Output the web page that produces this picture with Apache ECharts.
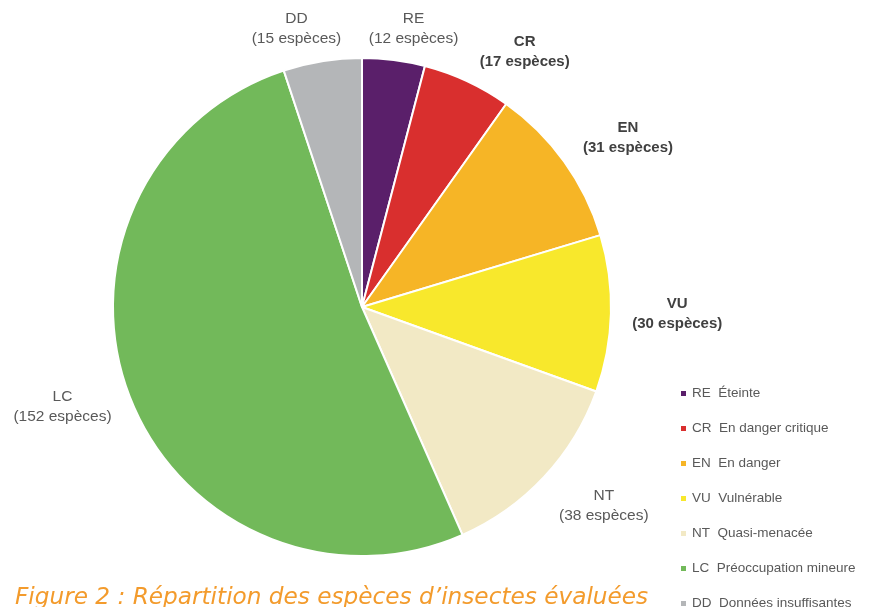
<!DOCTYPE html>
<html>
<head>
<meta charset="utf-8">
<script src="https://cdn.jsdelivr.net/npm/echarts@6/dist/echarts.min.js"></script>
<style>
  html, body { margin: 0; padding: 0; background: #fff; }
  #chart { width: 881px; height: 607px; }
</style>
</head>
<body>
<div id="chart"></div>
<script>
// catégories UICN
var codes = ["RE", "CR", "EN", "VU", "NT", "LC", "DD"];
var labels = ["Éteinte", "En danger critique", "En danger", "Vulnérable", "Quasi-menacée", "Préoccupation mineure", "Données insuffisantes"];
// nombre d'espèces
var counts = [12, 17, 31, 30, 38, 152, 15];
var colors = ["#5a1f6a", "#d92f2e", "#f6b526", "#f8e82c", "#f2e9c5", "#72b95a", "#b4b6b8"];
// labels en gras
var boldCodes = ["CR", "EN", "VU"];
// petits décalages des étiquettes (placement "au mieux" d'Excel)
var labelNudge = [[-4, 0], [21, 10], [6, 9], [8, -1], [20, -8], [-8, -12], [-1, 0]];

var cx = 362, cy = 307, R = 249;
var total = counts.reduce(function (a, b) { return a + b; }, 0);

// angle milieu de chaque part (depuis le haut, sens horaire)
var midAngles = [];
var acc = 0;
counts.forEach(function (v) {
  midAngles.push((acc + v / 2) / total * 2 * Math.PI);
  acc += v;
});

var chart = echarts.init(document.getElementById("chart"));

var option = {
  animation: false,
  title: {
    text: "Figure 2 : Répartition des espèces d\u2019insectes évaluées",
    left: 10,
    top: 581,
    textStyle: {
      fontFamily: "DejaVu Sans",
      fontStyle: "italic",
      fontWeight: "normal",
      fontSize: 23.2,
      color: "#f39b2c"
    }
  },
  legend: {
    orient: "vertical",
    left: 674,
    top: 381,
    height: 300,
    itemWidth: 7,
    itemHeight: 7,
    itemGap: 20,
    icon: "rect",
    data: codes,
    formatter: function (name) {
      return name + "  " + labels[codes.indexOf(name)];
    },
    textStyle: { fontFamily: "Liberation Sans", fontSize: 13.5, color: "#595959", lineHeight: 15 }
  },
  series: [
    {
      type: "pie",
      center: [cx, cy],
      radius: R,
      startAngle: 90,
      clockwise: true,
      itemStyle: { borderColor: "#fff", borderWidth: 2 },
      label: {
        show: true,
        position: "outside",
        overflow: "none",
        formatter: function (p) {
          var k = boldCodes.indexOf(p.name) >= 0 ? "b" : "n";
          return "{" + k + "|" + p.name + "}\n{" + k + "|(" + p.value + " espèces)}";
        },
        rich: {
          n: { fontFamily: "Liberation Sans", fontSize: 15.5, color: "#595959", lineHeight: 20, align: "center" },
          b: { fontFamily: "Liberation Sans", fontSize: 15, fontWeight: "bold", color: "#404040", lineHeight: 20, align: "center" }
        }
      },
      labelLine: { show: false },
      labelLayout: function (p) {
        var a = midAngles[p.dataIndex];
        var s = Math.sin(a), c = Math.cos(a);
        var w = p.labelRect.width / 2, h = p.labelRect.height / 2;
        var d = R + 13 + w * Math.abs(s) + 0.7 * h * Math.abs(c);
        // écarter un peu les labels du haut
        var spread = (s >= 0 ? 1 : -1) * 20 * Math.max(0, c);
        var n = labelNudge[p.dataIndex];
        return {
          x: cx + d * s + spread + n[0],
          y: cy - d * c + n[1],
          align: "center",
          verticalAlign: "middle"
        };
      },
      data: codes.map(function (c, i) {
        return { name: c, value: counts[i], itemStyle: { color: colors[i] } };
      })
    }
  ]
};

chart.setOption(option);
</script>
</body>
</html>
